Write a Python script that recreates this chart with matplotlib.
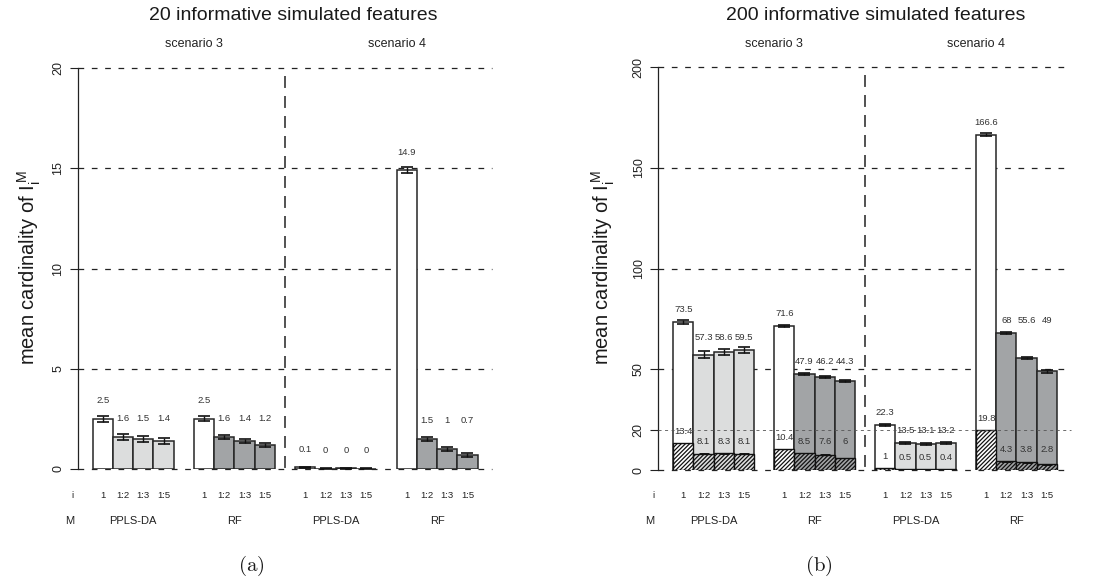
import matplotlib
matplotlib.use('Agg')
import matplotlib.pyplot as plt
import matplotlib.transforms as mtransforms
import numpy as np

plt.rcParams['font.family'] = ['Liberation Sans', 'DejaVu Sans']
plt.rcParams['mathtext.fontset'] = 'cm'
plt.rcParams['lines.scale_dashes'] = False
plt.rcParams['hatch.linewidth'] = 0.9

# ---------------- data ----------------
scenarios = ['scenario 3', 'scenario 4']
methods = ['PPLS-DA', 'RF', 'PPLS-DA', 'RF']
i_labels = ['1', '1:2', '1:3', '1:5']

# panel (a): 20 informative simulated features
a_s3_ppls = [2.5, 1.6, 1.5, 1.4]
a_s3_rf = [2.5, 1.6, 1.4, 1.2]
a_s4_ppls = [0.08, 0.02, 0.03, 0.02]
a_s4_rf = [14.9, 1.5, 1.0, 0.7]
a_s3_ppls_err = [0.15, 0.15, 0.15, 0.15]
a_s3_rf_err = [0.13, 0.1, 0.1, 0.08]
a_s4_ppls_err = [0.03, 0.01, 0.01, 0.01]
a_s4_rf_err = [0.15, 0.12, 0.1, 0.08]

# panel (b): 200 informative simulated features
b_s3_ppls = [73.5, 57.3, 58.6, 59.5]
b_s3_rf = [71.6, 47.9, 46.2, 44.3]
b_s4_ppls = [22.3, 13.5, 13.1, 13.2]
b_s4_rf = [166.6, 68.0, 55.6, 49.0]
b_s3_ppls_err = [1.2, 1.6, 1.6, 1.6]
b_s3_rf_err = [0.5, 0.5, 0.5, 0.5]
b_s4_ppls_err = [0.6, 0.6, 0.5, 0.5]
b_s4_rf_err = [0.6, 0.6, 0.5, 0.6]
# hatched (informative) part
b_s3_ppls_inf = [13.4, 8.1, 8.3, 8.1]
b_s3_rf_inf = [10.4, 8.5, 7.6, 6.0]
b_s4_ppls_inf = [1.0, 0.5, 0.5, 0.4]
b_s4_rf_inf = [19.8, 4.3, 3.8, 2.8]
b_inf_err = [0.15, 0.15, 0.15, 0.15]

a_ticks = [0, 5, 10, 15, 20]
b_ticks = [0, 20, 50, 100, 150, 200]

# ---------------- style ----------------
W, H = 1102, 585
fig = plt.figure(figsize=(W / 100, H / 100), dpi=100)

LIGHT = '#dcdddd'
DARK = '#a2a4a6'
EDGE = '#262626'
XLIM = (-0.74, 19.7)
VAL_FS = 6.8


def fmt(v):
    r = round(v, 1)
    return f'{r:g}'


def panel(rect, groups, errs, infs, ymax, ticks, title, title_x, ylab_x,
          letter, letter_x, lab_off, inner_off):
    ax = fig.add_axes(rect)
    ax.set_xlim(*XLIM)
    ax.set_ylim(0, ymax)
    for s in ['top', 'right', 'bottom']:
        ax.spines[s].set_visible(False)
    ax.spines['left'].set_bounds(0, ymax)
    ax.spines['left'].set_linewidth(0.9)
    ax.spines['left'].set_color('#222222')
    ax.set_xticks([])
    ax.set_yticks(ticks)
    ax.set_yticklabels([str(t) for t in ticks])
    ax.tick_params(axis='y', direction='out', length=5.8, width=0.8,
                   labelsize=9, pad=4, labelrotation=90, colors='#222222')
    for t in ax.get_yticklabels():
        t.set_va('center')
    ax.patch.set_alpha(0)

    # grid lines
    for t in ticks:
        if t == 20 and ymax == 200:
            ax.plot(XLIM, [t, t], color='#555555', lw=0.6, dashes=(2.2, 2.5),
                    zorder=5, clip_on=False)
        else:
            ax.plot(XLIM, [t, t], color='#222222', lw=0.9, dashes=(4.1, 5.5),
                    zorder=0, clip_on=False)
    # divider
    ax.plot([9.5, 9.5], [ymax * 0.98, 0], color='#222222', lw=1.1,
            dashes=(8.6, 5.8), zorder=1, clip_on=False)

    blend = mtransforms.blended_transform_factory(ax.transData, fig.transFigure)
    for g in range(4):
        xs = g * 5 + np.arange(4) + 0.5
        vals = groups[g]
        cols = ['white'] + [LIGHT if methods[g] == 'PPLS-DA' else DARK] * 3
        ax.bar(xs, vals, width=1, color=cols, edgecolor=EDGE, linewidth=1.1,
               zorder=2)
        if infs is not None:
            ax.bar(xs, infs[g], width=1, color=cols, edgecolor='#111111',
                   linewidth=1.0, hatch='////////', zorder=3)
            ax.errorbar(xs, infs[g], yerr=b_inf_err, fmt='none', ecolor='#111111',
                        elinewidth=0.6, capsize=3.5, capthick=0.7, zorder=4)
        ax.errorbar(xs, vals, yerr=errs[g], fmt='none', ecolor='#111111',
                    elinewidth=1.0, capsize=4.3, capthick=1.2, zorder=4)
        # value labels
        top_rest = max(vals[1:])
        for k in range(4):
            ybase = vals[0] if k == 0 else top_rest
            ax.annotate(fmt(vals[k]), xy=(xs[k], ybase), xytext=(0, lab_off),
                        textcoords='offset pixels', ha='center', va='center',
                        fontsize=VAL_FS, color='#333333', zorder=6)
        if infs is not None:
            inf_rest = max(infs[g][1:])
            for k in range(4):
                ybase = infs[g][0] if k == 0 else inf_rest
                ax.annotate(fmt(infs[g][k]), xy=(xs[k], ybase),
                            xytext=(0, inner_off), textcoords='offset pixels',
                            ha='center', va='center', fontsize=VAL_FS,
                            color='#333333', zorder=6)
        # i row
        for k in range(4):
            ax.text(xs[k], 1 - 496 / H, i_labels[k], transform=blend,
                    ha='center', va='center', fontsize=6.8, color='#222222')
        ax.text(g * 5 + 2, 1 - 521 / H, methods[g], transform=blend,
                ha='center', va='center', fontsize=8, color='#222222')
    ax.text(-1.0, 1 - 496 / H, 'i', transform=blend, ha='center', va='center',
            fontsize=6.8, color='#222222')
    ax.text(-1.15, 1 - 521 / H, 'M', transform=blend, ha='center',
            va='center', fontsize=8, color='#222222')
    ax.text(5, 1 - 44 / H, scenarios[0], transform=blend, ha='center',
            va='center', fontsize=9, color='#222222')
    ax.text(15, 1 - 44 / H, scenarios[1], transform=blend, ha='center',
            va='center', fontsize=9, color='#222222')

    fig.text(title_x / W, 1 - 15 / H, title, ha='center', va='center',
             fontsize=14, color='#1a1a1a')
    fig.text(ylab_x / W, 1 - 268 / H, r'mean cardinality of $\mathregular{I_i^{\,M}}$',
             rotation=90, ha='center', va='center', fontsize=14.5,
             color='#1a1a1a')
    fig.text(letter_x / W, 1 - 566 / H, r'$\mathrm{(' + letter + ')}$',
             ha='center', va='center', fontsize=15, color='#1a1a1a')
    return ax


panel([77.7 / W, (H - 469) / H, (491.7 - 77.7) / W, 401 / H],
      [a_s3_ppls, a_s3_rf, a_s4_ppls, a_s4_rf],
      [a_s3_ppls_err, a_s3_rf_err, a_s4_ppls_err, a_s4_rf_err],
      None, 20, a_ticks, '20 informative simulated features', 293, 29,
      'a', 251, 18, 11.5)

panel([658.3 / W, (H - 470) / H, (1071 - 658.3) / W, 402.7 / H],
      [b_s3_ppls, b_s3_rf, b_s4_ppls, b_s4_rf],
      [b_s3_ppls_err, b_s3_rf_err, b_s4_ppls_err, b_s4_rf_err],
      [b_s3_ppls_inf, b_s3_rf_inf, b_s4_ppls_inf, b_s4_rf_inf],
      200, b_ticks, '200 informative simulated features', 875.6, 603,
      'b', 819, 12.5, 11.5)

fig.savefig('out.png', dpi=100)
